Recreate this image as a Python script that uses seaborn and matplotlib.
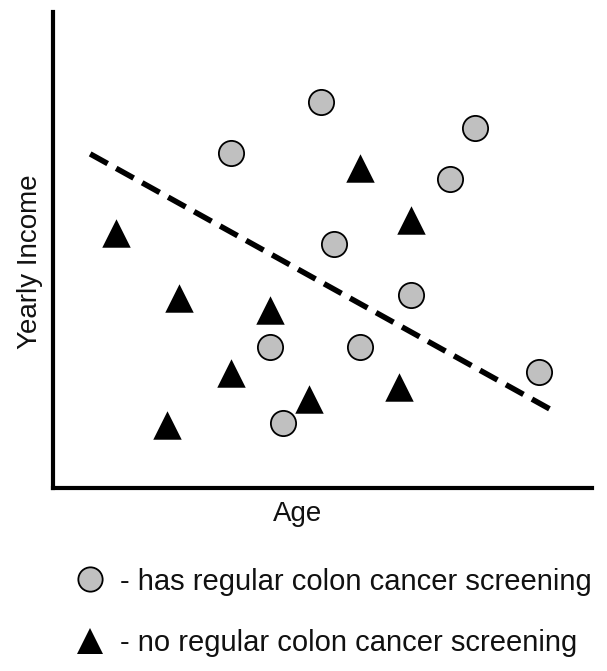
import matplotlib
matplotlib.use("Agg")
import matplotlib.pyplot as plt
from matplotlib.lines import Line2D
import seaborn as sns
import pandas as pd

# Data (arbitrary units)
screened_age = [49.7, 33.0, 78.3, 73.7, 52.1, 66.4, 40.3, 57.0, 90.2, 42.7]
screened_income = [81.1, 70.4, 75.6, 64.9, 51.3, 40.5, 29.6, 29.6, 24.4, 13.7]
unscreened_age = [57.0, 11.7, 66.4, 23.4, 40.3, 33.0, 47.5, 64.2, 21.2]
unscreened_income = [67.2, 53.6, 56.3, 39.9, 37.4, 24.2, 18.7, 21.2, 13.2]
trend_age = [6.9, 92.2]
trend_income = [70.2, 16.6]

legend_labels = ["- has regular colon cancer screening",
                 "- no regular colon cancer screening"]

sns.set_style("white")
plt.rcParams['font.family'] = ['Liberation Sans', 'DejaVu Sans']

fig = plt.figure(figsize=(6.07, 6.71), dpi=100)
ax = fig.add_axes([0.0873, 0.2727, 0.975 - 0.0873, 0.982 - 0.2727])

df_s = pd.DataFrame({"age": screened_age, "income": screened_income})
df_u = pd.DataFrame({"age": unscreened_age, "income": unscreened_income})
df_t = pd.DataFrame({"age": trend_age, "income": trend_income})

sns.lineplot(data=df_t, x="age", y="income", ax=ax, color="black",
             linewidth=4.0, linestyle=(0, (3.6, 1.75)))
sns.scatterplot(data=df_s, x="age", y="income", ax=ax, marker="o", s=330,
                color="#c0c0c0", edgecolor="black", linewidth=1.3, zorder=3)
sns.scatterplot(data=df_u, x="age", y="income", ax=ax, marker="^", s=420,
                color="black", edgecolor="black", linewidth=0, zorder=3)

ax.set_xlim(0, 100)
ax.set_ylim(0, 100)
ax.set_xticks([])
ax.set_yticks([])
for side in ["top", "right"]:
    ax.spines[side].set_visible(False)
for side in ["left", "bottom"]:
    ax.spines[side].set_linewidth(3)
    ax.spines[side].set_color("black")
ax.set_xlabel("Age", fontsize=20, labelpad=8, color="#111111")
ax.xaxis.set_label_coords(0.453, -0.028, transform=ax.transAxes)
ax.xaxis.label.set_va("top")
ax.set_ylabel("Yearly Income", fontsize=20, labelpad=7, color="#111111")
ax.yaxis.label.set_y(0.475)

handles = [
    Line2D([], [], marker="o", linestyle="none", markersize=17.5,
           markerfacecolor="#c0c0c0", markeredgecolor="black", markeredgewidth=1.3),
    Line2D([], [], marker="^", linestyle="none", markersize=19,
           markerfacecolor="black", markeredgecolor="black", markeredgewidth=0),
]
fig.legend(handles, legend_labels, loc="upper left",
           bbox_to_anchor=(0.1236, 0.154), frameon=False, fontsize=21,
           handletextpad=0.55, labelspacing=1.15, handlelength=1.0,
           borderpad=0, borderaxespad=0, labelcolor="#111111")

fig.savefig("out.png", dpi=100)
